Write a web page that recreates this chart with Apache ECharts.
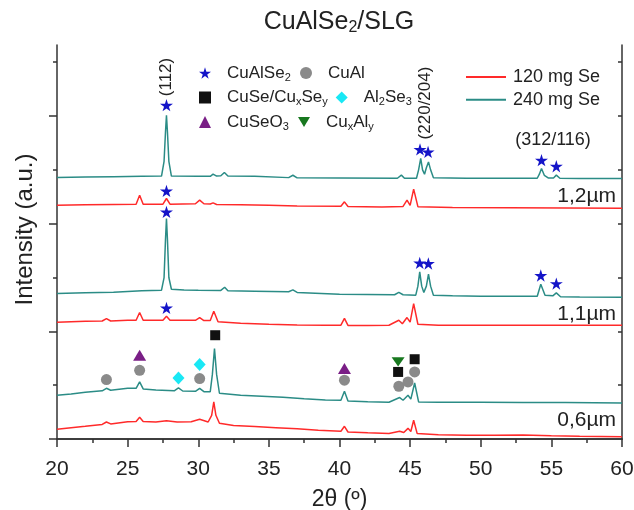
<!DOCTYPE html>
<html>
<head>
<meta charset="utf-8">
<script src="https://cdn.jsdelivr.net/npm/echarts@6/dist/echarts.min.js"></script>
<style>
html, body { margin: 0; padding: 0; background: #fff; }
#pic { width: 634px; height: 510px; }
</style>
</head>
<body>
<div id="pic"></div>
<script>
// XRD patterns: [2theta, stacked intensity (a.u.)]
var red06 = [[20, 9.0], [21, 10.5], [22, 11.8], [23.2, 13.5], [23.5, 15.8], [23.8, 14.0], [25, 16.0], [25.6, 16.3], [25.85, 20.2], [26.1, 16.3], [27, 15.8], [27.75, 17.0], [28.5, 15.8], [29.5, 16.0], [30.1, 18.3], [30.7, 15.8], [30.95, 22], [31.1, 34.4], [31.25, 22], [31.5, 14.6], [32.5, 12.5], [34, 11.5], [35.5, 10.5], [37, 9.5], [38.5, 8.2], [40.1, 7.2], [40.35, 11.8], [40.6, 6.5], [42, 5.8], [43.5, 5.2], [44.26, 7.2], [44.55, 6.0], [44.85, 9.9], [45.05, 7.0], [45.25, 17.4], [45.5, 5.0], [47, 4.0], [49, 3.5], [51, 3.4], [53, 3.6], [55, 3.0], [57, 2.6], [60, 2.2]];
var teal06 = [[20, 40.6], [21, 41.8], [22, 43.4], [23.2, 44.8], [23.5, 47.1], [23.8, 45.3], [25, 47.1], [25.6, 47.1], [25.85, 53.0], [26.1, 46.5], [27, 45.5], [28.3, 44.8], [28.6, 47.4], [28.9, 44.6], [29.8, 44.3], [30.1, 47.1], [30.4, 44.0], [30.85, 44], [31.0, 60], [31.15, 84.0], [31.3, 60], [31.5, 42.5], [33, 40.6], [34.5, 39.8], [36, 38.8], [37.5, 37.4], [39, 36.2], [40.1, 36.0], [40.35, 44.3], [40.6, 35.2], [42, 34.6], [43.5, 34.1], [44.26, 38.5], [44.5, 36.0], [44.85, 40.6], [45.05, 37.0], [45.32, 52.0], [45.6, 34.4], [47, 34.1], [50, 34.1], [53, 33.8], [56, 33.8], [60, 33.5]];
var red11 = [[20, 108.5], [22, 109.4], [23.2, 109.6], [23.5, 111.9], [23.8, 109.6], [25, 110.3], [25.6, 110.3], [25.85, 117.5], [26.1, 110.3], [27.5, 110.3], [27.75, 114.0], [28.0, 110.3], [29, 110.3], [29.8, 110.3], [30.1, 112.8], [30.4, 110.0], [30.85, 110], [31.1, 118.7], [31.4, 109.0], [33, 107.5], [35, 106.6], [37, 106.0], [39, 105.7], [40.1, 105.7], [40.35, 112], [40.6, 105.5], [42, 105.5], [43.5, 105.7], [44.2, 110.3], [44.45, 107.0], [44.78, 112.8], [45.0, 108.5], [45.25, 125.8], [45.55, 106.6], [47, 105.7], [50, 105.7], [55, 105.7], [60, 105.7]];
var teal11 = [[20, 135.1], [22, 135.8], [24, 136.3], [26, 137.6], [27.4, 138.2], [27.58, 150], [27.68, 185], [27.75, 204.8], [27.82, 185], [27.92, 150], [28.1, 139.1], [29, 138.5], [30, 138.2], [31.6, 138.0], [31.87, 141.0], [32.1, 137.8], [34, 137.3], [36.4, 136.8], [36.7, 138.5], [37, 136.2], [40, 134.5], [43.9, 134], [44.2, 136.3], [44.5, 134], [45.4, 133.6], [45.55, 142], [45.68, 155.2], [45.82, 142], [45.97, 136.0], [46.15, 142], [46.3, 153.1], [46.45, 142], [46.65, 133.6], [48, 133], [50, 132.6], [52, 132.6], [54.0, 132.6], [54.25, 143.8], [54.55, 133.6], [55.1, 133.0], [55.35, 135.7], [55.65, 132.2], [57, 132], [60, 131.7]];
var red12 = [[20, 217.2], [22, 217.5], [24, 217.8], [25.6, 218.1], [25.85, 226.5], [26.1, 218.1], [27.5, 218.1], [27.75, 223.4], [28.0, 218.1], [29.8, 218.5], [30.1, 221.9], [30.4, 218.5], [30.85, 218.3], [31.05, 219.3], [31.3, 217.8], [33, 217.5], [35, 217.2], [37, 216.5], [40.1, 216.3], [40.35, 220.3], [40.6, 216], [43, 215.5], [44.5, 216], [44.78, 221.9], [45.0, 217], [45.25, 232.1], [45.55, 215.8], [48, 215], [52, 214.8], [56, 214.6], [60, 214.4]];
var teal12 = [[20, 242.9], [22, 243.3], [24, 243.6], [26, 244.0], [27.4, 244.2], [27.58, 258], [27.68, 285], [27.75, 300.8], [27.82, 285], [27.92, 258], [28.1, 244.2], [30, 244.0], [30.85, 244], [31.05, 246.0], [31.3, 244.2], [31.6, 244.5], [31.85, 247.6], [32.1, 244.3], [34, 244.0], [36.4, 242.8], [36.7, 245], [37.0, 242.6], [40, 242.4], [44.1, 242.2], [44.38, 245.1], [44.6, 242.2], [45.45, 242.2], [45.6, 250], [45.75, 260.6], [45.88, 250], [46.02, 246], [46.15, 252], [46.3, 257.4], [46.45, 250], [46.65, 242.6], [49, 242.2], [52, 242.2], [54.0, 242.2], [54.15, 246], [54.3, 251.3], [54.5, 245], [54.8, 242.4], [55.15, 242.5], [55.35, 245.1], [55.6, 242.2], [57, 242], [60, 242.0]];

// phase markers
var starPts = [[27.75, 310.1], [45.7, 269.0], [46.27, 266.7], [54.3, 259.0], [55.35, 253.4], [27.75, 230.5], [27.75, 211.0], [45.68, 163.6], [46.29, 163.0], [54.25, 151.9], [55.35, 144.4], [27.75, 121.8]];
var circlePts = [[23.5, 55.2], [25.85, 63.8], [30.1, 56.1], [40.35, 54.6], [44.2, 49.0], [44.85, 53.0], [45.32, 62.3]];
var squarePts = [[31.2, 96.4], [44.15, 62.3], [45.32, 74.1]];
var diamondPts = [[28.6, 56.7], [30.1, 69.1]];
var triUpPts = [[25.85, 77.8], [40.35, 65.4]];
var triDownPts = [[44.15, 71.6]];

var yMajorTicks = [0, 100, 200, 300];
var yMinorTicks = [50, 150, 250, 350];
var yRightTicks = [50, 100, 150, 200, 250, 300, 350];

var RED = '#ff2a2a', TEAL = '#2b8c86', AXIS = '#333';
var FONT = '"Liberation Sans", Arial, sans-serif';
var STAR = 'path://M50,0 L61,35 L98,35 L68,57 L79,91 L50,70 L21,91 L32,57 L2,35 L39,35 Z';
var DOWN = 'path://M0,0 L12,0 L6,10 Z';

var phaseText = {
  'CuAlSe2': 'CuAlSe{s|2}',
  'CuAl': 'CuAl',
  'CuSe/CuxSey': 'CuSe/Cu{s|x}Se{s|y}',
  'Al2Se3': 'Al{s|2}Se{s|3}',
  'CuSeO3': 'CuSeO{s|3}',
  'CuxAly': 'Cu{s|x}Al{s|y}'
};

var myChart = echarts.init(document.getElementById('pic'));

function trace(name, data, color) {
  return {
    name: name, type: 'line', data: data, symbol: 'none', showSymbol: false,
    lineStyle: { color: color, width: 1.5 }, itemStyle: { color: color }, z: 2
  };
}
function marks(name, data, symbol, size, color) {
  return {
    name: name, type: 'scatter', data: data, symbol: symbol, symbolSize: size,
    symbolKeepAspect: true,
    itemStyle: { color: color, opacity: 1 }, z: 5
  };
}
function phaseLegend(name, left, top) {
  return {
    data: [name], left: left, top: top, padding: 0, itemWidth: 12, itemHeight: 12,
    formatter: function (n) { return phaseText[n]; },
    textStyle: {
      fontSize: 17, lineHeight: 20, color: '#222', fontFamily: FONT, padding: [0, 0, 0, 11],
      rich: { s: { fontSize: 11, lineHeight: 10, verticalAlign: 'bottom', fontFamily: FONT, color: '#222' } }
    }
  };
}
function sampleLegend(name, top) {
  return {
    data: [{ name: name, icon: 'rect' }], left: 466, top: top, padding: 0, itemWidth: 40, itemHeight: 2,
    textStyle: { fontSize: 18, color: '#222', fontFamily: FONT, padding: [0, 0, 0, 2] }
  };
}
function note(text, x, y, size, align, rot) {
  return {
    type: 'text', x: x, y: y, rotation: rot || 0, z: 10,
    style: { text: text, fontSize: size, fontFamily: FONT, fill: '#222', align: align || 'center', verticalAlign: 'middle' }
  };
}

var option = {
  animation: false,
  grid: { left: 57, right: 12, top: 45, bottom: 71, containLabel: false, outerBoundsMode: 'none' },
  legend: [
    phaseLegend('CuAlSe2', 199, 63),
    phaseLegend('CuAl', 300, 63),
    phaseLegend('CuSe/CuxSey', 199, 87.5),
    phaseLegend('Al2Se3', 335.7, 87.5),
    phaseLegend('CuSeO3', 199, 112),
    phaseLegend('CuxAly', 298, 112),
    sampleLegend('120 mg Se', 68),
    sampleLegend('240 mg Se', 90.7)
  ],
  xAxis: [
    {
      type: 'value', min: 20, max: 60, interval: 5, position: 'bottom',
      name: '2\u03b8 (\u00ba)', nameLocation: 'middle', nameGap: 49,
      nameTextStyle: { fontSize: 23, color: '#222', fontFamily: FONT },
      axisLine: { lineStyle: { color: AXIS, width: 1.5 } },
      axisTick: { length: 8, lineStyle: { color: AXIS, width: 1.5 } },
      minorTick: { show: true, splitNumber: 2, length: 4, lineStyle: { color: AXIS, width: 1.5 } },
      axisLabel: { fontSize: 21, color: '#222', fontFamily: FONT, margin: 20 },
      splitLine: { show: false }
    },
    {
      type: 'value', min: 20, max: 60, interval: 2.5, position: 'top',
      axisLine: { lineStyle: { color: AXIS, width: 1.5 } },
      axisTick: { inside: true, length: 4, lineStyle: { color: AXIS, width: 1.5 } },
      axisLabel: { show: false }, splitLine: { show: false }
    }
  ],
  yAxis: [
    {
      type: 'value', min: 0, max: 366, position: 'left',
      name: 'Intensity (a.u.)', nameLocation: 'middle', nameGap: 20,
      nameTextStyle: { fontSize: 24, color: '#222', fontFamily: FONT, padding: [0, 0, 0, 25] },
      axisLine: { show: true, lineStyle: { color: AXIS, width: 1.5 } },
      axisTick: { show: true, length: 8, customValues: yMajorTicks, lineStyle: { color: AXIS, width: 1.5 } },
      axisLabel: { show: false }, splitLine: { show: false }
    },
    {
      type: 'value', min: 0, max: 366, position: 'left',
      axisLine: { show: false },
      axisTick: { show: true, length: 4, customValues: yMinorTicks, lineStyle: { color: AXIS, width: 1.5 } },
      axisLabel: { show: false }, splitLine: { show: false }
    },
    {
      type: 'value', min: 0, max: 366, position: 'right',
      axisLine: { show: true, lineStyle: { color: AXIS, width: 1.5 } },
      axisTick: { show: true, inside: true, length: 4, customValues: yRightTicks, lineStyle: { color: AXIS, width: 1.5 } },
      axisLabel: { show: false }, splitLine: { show: false }
    }
  ],
  graphic: [
    {
      type: 'text', x: 339, y: 22, z: 10,
      style: {
        text: 'CuAlSe{s|2}/SLG', fontSize: 25, lineHeight: 28, fontFamily: FONT, fill: '#222',
        align: 'center', verticalAlign: 'middle',
        rich: { s: { fontSize: 16, lineHeight: 12, verticalAlign: 'bottom', fontFamily: FONT, fill: '#222' } }
      }
    },
    note('(112)', 166, 77, 17, 'center', Math.PI / 2),
    note('(220/204)', 425, 103, 17, 'center', Math.PI / 2),
    note('(312/116)', 553, 140, 18),
    note('1,2\u00b5m', 616, 196, 21, 'right'),
    note('1,1\u00b5m', 616, 314, 21, 'right'),
    note('0,6\u00b5m', 616, 420, 21, 'right')
  ],
  series: [
    trace('120 mg Se', red06, RED),
    trace('240 mg Se', teal06, TEAL),
    trace('120 mg Se', red11, RED),
    trace('240 mg Se', teal11, TEAL),
    trace('120 mg Se', red12, RED),
    trace('240 mg Se', teal12, TEAL),
    marks('CuAlSe2', starPts, STAR, 13, '#1414c8'),
    marks('CuAl', circlePts, 'circle', 11, '#8a8a8a'),
    marks('CuSe/CuxSey', squarePts, 'rect', 10, '#111111'),
    marks('Al2Se3', diamondPts, 'diamond', [12, 13], '#19e8f5'),
    marks('CuSeO3', triUpPts, 'triangle', [13, 11], '#7a1e86'),
    marks('CuxAly', triDownPts, DOWN, [13, 11], '#18781f')
  ]
};

myChart.setOption(option);
</script>
</body>
</html>
